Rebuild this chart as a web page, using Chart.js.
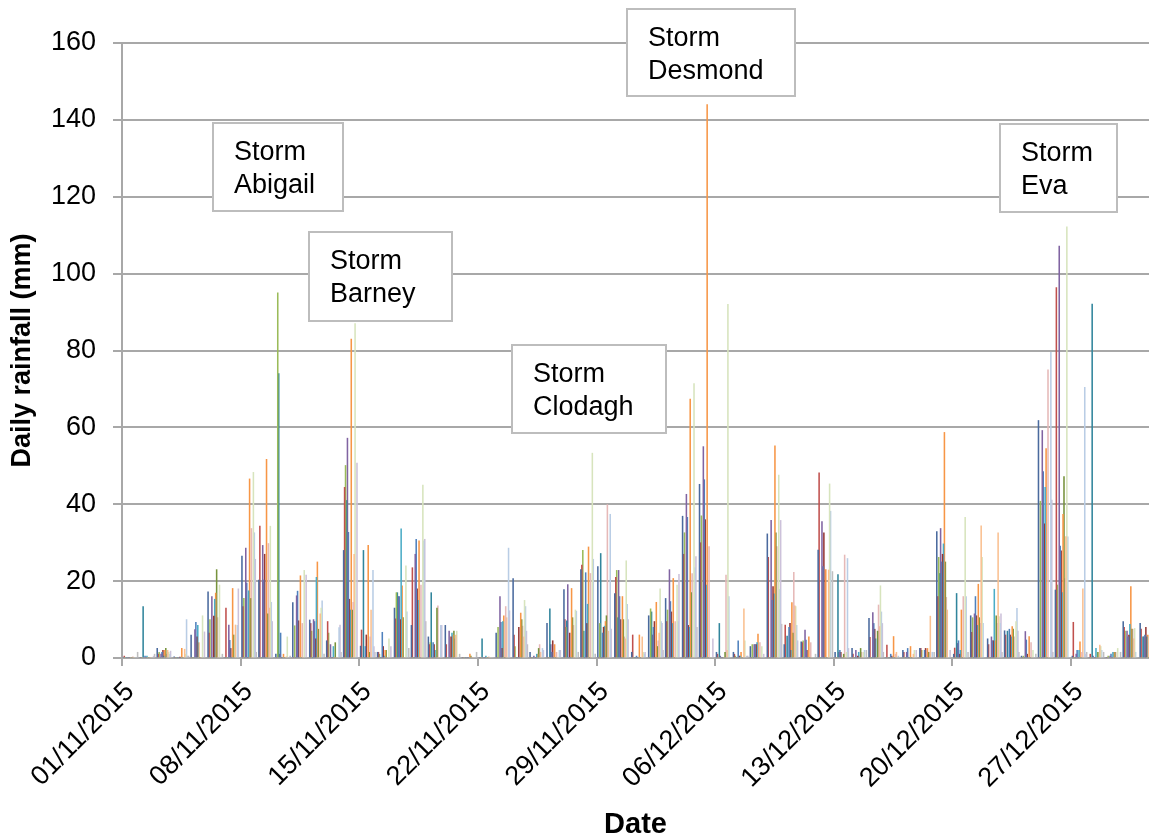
<!DOCTYPE html>
<html>
<head>
<meta charset="utf-8">
<title>Daily rainfall, November - December 2015</title>
<script src="https://cdn.jsdelivr.net/npm/chart.js@4/dist/chart.umd.min.js"></script>
<style>
  html, body { margin: 0; padding: 0; background: #fff; }
  canvas { display: block; }
</style>
</head>
<body>
<canvas id="rainChart" width="1149" height="838"></canvas>
<script>
// one value per day, 01/11/2015 .. 31/12/2015 (61 days)
const station1  = [0,0,2.5,0.3,6,17.2,0,26.5,20.3,1, 14.4,9.9,4.5,28,3.1,1.5,13,8.5,5.5,8.5, 0,0,6.5,20.7,1.5,9,17.8,23,23.8,16.8, 1.5,11,15.5,36.9,45.2,1.5,1.5,3,32.3,3.5, 4.2,28.1,1.5,2.5,10.3,0,2,2.5,32.9,1, 11,5,7.1,0.5,61.8,17.7,0.5,0,0,9.5, 9];
const station2  = [0.5,0,1,0,0,6.5,13,13.4,34.3,0, 0,9,9.5,44.4,7.3,1.5,10.2,23.5,3.5,3.5, 0,0,0,6,0,0,10,24.2,0,21, 6,0,9.5,27,30,1,1,0,26.2,8.6, 4,48.2,0,1,5.4,3.4,1.5,2.5,16,2.6, 6.7,3.5,6,0,0,96.4,9.3,1,0,8, 7.5];
const station3  = [0,0,1.5,0,0,10,0,15.5,0,95, 8.4,7,6.5,50.1,0,1,17,0,4,0, 0,0,8,3,0,0,8,28,9,22.8, 0,12.8,12.5,32.6,37,0,0.5,3.5,0,0, 4.5,0,0,0,0,0,0,2,26.2,0, 10.5,0,0,0.5,40.8,19,0,0,0.5,7, 0];
const station4  = [0,13.4,0,0,0,0,0,0,0,74, 0,0,0,41,28,0,17,0,17,0, 0,5,0,0,0,12.8,9.7,7,27.2,10.5, 0,12,0,0,0,9,0,0,0,5.7, 0,0,21.7,0,0,0,0,0,22,16.8, 0,0,7,0,0,0,0,92.1,0,0, 5.5];
const station5  = [0,0,1,0,7.4,16,8.6,28.6,29.3,1, 16.2,10,3.5,57.2,0,0,16,27,0,7, 0,0,16,0,0.5,3.5,19.1,0,0,22.8, 0,6,23,42.6,55,0.5,0,3.5,35.8,0, 7.3,35.5,1.5,2,11.8,0,1.5,0,33.7,3.8, 11.5,5.5,0,6.9,59.2,107.2,1,0.5,0.5,7, 5.5];
const station6  = [0,0.5,1.5,0,9.3,0,4.6,19.5,20.3,6.5, 17.4,9.5,0,32.7,3,6.7,16,30.9,4,0, 0,0,9.3,0,0,1.5,0,22.2,6.5,16, 0.5,8,14.7,36.6,46.4,0,4.5,3.5,15,8, 4.7,23.8,2,0,9,1,2.5,2,25,4.5, 16,4.5,7.5,4.7,48.5,29.1,2,0,1,5.5, 6];
const station7  = [0,0,2,0.2,5.5,10.9,2.5,0,27,0, 9.7,5,0,15.3,6,3,10,18,3.5,5.5, 0,0,2.5,8,0,4.5,6.5,9,8,10, 0,9.5,12,8.5,36,0,0.5,3.5,18.6,9, 2,32.6,1.5,0.5,7.5,0.5,0,2.5,27,1, 11,4.5,6,1,34.9,27.9,0,0,0,6, 8];
const station8  = [0,0.5,0.5,0,8.5,15.3,0,17.5,0,0, 0,21,3,12.5,0,0.5,33.6,15,2,6.5, 0,0.5,9.5,0,1,0,0,14,8.3,0, 0,0,9,8,19,0,0.5,4,16.7,2, 0,0,0,1.5,5,0,0,0,29.7,2, 8.5,17.9,5.5,0,44.4,17,2,2.5,1.5,8.8, 5.5];
const station9  = [0,0,2,2.5,4,16.9,18.1,46.6,51.7,1, 21.4,25,0,83,29.3,2,18.8,30.5,0,6, 1,0,11,11.7,1,3.5,18.1,28.9,9.5,16, 6,14.5,20.7,67.4,144,0,1.5,6.2,55.2,14.4, 5.5,23,0,0,0,5.6,3,2.5,58.7,12.5, 19.2,4.5,8.2,5.6,54.5,37.4,4.2,0,1.5,18.6, 6];
const station10 = [0,0,2.5,0,0,23,6,15.5,11.5,0, 0,7.5,4,12.5,1.5,2,10.5,0,13,7, 0.5,0,0,10,2.5,0,10.5,0,11,10, 0,3,0,17,0,1.5,0,0,32.6,6.5, 0,0,1,2.5,7,0,0,1.5,25,0, 10.5,11,7.5,0,0,47.2,0,1.5,1.5,7.5, 0];
const station11 = [0.3,0,1,0,0,10.5,0,33.7,29.8,0, 9,0,0,14.5,5.5,0,0,19,13.6,5, 0,0.3,13.4,8.3,3.5,1.5,8.5,22,39.9,5.5, 0,4.5,9.5,22,29,21.6,0,4,29,22.3, 4,0,26.8,1.5,13.8,1,0,1.5,15.8,16, 9,9,5.5,4,75,20.7,1.5,0,1.5,7.5, 4];
const station12 = [0,0,2,2.3,0,0,8.6,0,13,0.3, 0,11.5,0,27,12.5,0,0,0,0,6, 0,0,10.5,5.5,1.5,0,0,0,7,5, 5.5,6.5,0,0,0,2,12.8,0,0,13.6, 0,22.9,0,0,8.2,1.5,1,10.9,12.5,0, 34.4,32.6,0,0,0,31.6,18,3.4,0,5, 0];
const station13 = [0,0,1.5,1,11,19,0,48.3,34.3,5.5, 22.8,13,0,87,0,5,24,45,0,7, 0,0,0,15,0,0,12.5,53.3,0,25.3, 1.5,18,19,71.4,0,92,4.5,3,47.6,13.4, 0,45.3,1.5,1.5,18.8,0,2,0,0,36.6, 26.2,10.8,9.5,2,0,112.2,0,3,2.5,7.7, 3];
const station14 = [0,0,1,10,0,0,8.5,32.6,14.5,0, 0,14.9,7.9,0,22.8,0,12,30.5,8.5,0, 0,0,28.6,13.4,2.5,2,12.2,25.7,37.4,14, 1,9.5,9.5,23.5,0,16,0,0,17.9,8.5, 0,38.2,25.9,2,12,0.5,0,1.5,0,16, 9,9,12.9,0,79.5,31.5,70.4,2,0,1.5, 0];
const station15 = [0,0.5,1.8,0.5,6.8,0,18,25.7,9.5,0, 21.6,0,8.6,50.7,3,3,0,30.9,8.5,0, 0,0,12.3,7,2,2,0,0,7.5,10, 1.5,9,21.8,26.4,5,0,0.5,1,35.8,4.5, 0,0,2.5,0,9,0,2,0,2,0, 0,11.5,7,0,41.1,0,1,0,0,0, 0];
const station16 = [1.5,1,0,0.5,0,1,0,1.5,0,0.5, 0,1,1.5,0,1.5,0,2.5,9.5,0,1, 1.5,0,0,3.5,0,0,1.5,1,0,0, 0,2,0,8,0,0,0.5,0,8.8,0, 1,22.5,0,2,1.5,0,0,1.5,0,1.5, 0,1.5,1.5,1,1.5,0,1.5,1.5,1.5,0, 0];

const tickDays = [0, 7, 14, 21, 28, 35, 42, 49, 56];
const tickLabels = ['01/11/2015', '08/11/2015', '15/11/2015', '22/11/2015', '29/11/2015',
                    '06/12/2015', '13/12/2015', '20/12/2015', '27/12/2015'];

const storms = [['Storm', 'Abigail'], ['Storm', 'Barney'], ['Storm', 'Clodagh'], ['Storm', 'Desmond'], ['Storm', 'Eva']];

const series = [station1, station2, station3, station4, station5, station6, station7, station8,
                station9, station10, station11, station12, station13, station14, station15, station16];
const colours = ['#4A6A9E', '#C0504D', '#9BBB59', '#31859C', '#8064A2', '#4F81BD', '#953735', '#4BACC6',
                 '#F79646', '#77933C', '#E6B9B8', '#FAC090', '#D7E4BD', '#B9CDE5', '#CCC1DA', '#BFBFBF'];

// label boxes, in axis units (day, mm)
const stormBoxes = [
  { x0: 5.37,  x1: 13.04, y0: 139.2, y1: 116.3 },
  { x0: 11.03, x1: 19.47, y0: 110.8, y1: 87.6 },
  { x0: 23.01, x1: 32.1,  y0: 81.4,  y1: 58.5 },
  { x0: 29.79, x1: 39.7,  y0: 168.8, y1: 146.2 },
  { x0: 51.8,  x1: 58.7,  y0: 138.9, y1: 116.0 },
];

const FONT = '"Liberation Sans", Arial, sans-serif';
const GRID = '#A8A8A8';
Chart.defaults.font.family = FONT;
Chart.defaults.color = '#000';

const stormLabels = {
  id: 'stormLabels',
  afterDraw(chart) {
    const { ctx } = chart;
    const x = chart.scales.x;
    const y = chart.scales.y;
    ctx.save();
    stormBoxes.forEach((b, i) => {
      const left = Math.round(x.getPixelForValue(b.x0));
      const right = Math.round(x.getPixelForValue(b.x1));
      const top = Math.round(y.getPixelForValue(b.y0));
      const bottom = Math.round(y.getPixelForValue(b.y1));
      ctx.fillStyle = '#fff';
      ctx.fillRect(left, top, right - left, bottom - top);
      ctx.strokeStyle = '#BDBDBD';
      ctx.lineWidth = 2;
      ctx.strokeRect(left, top, right - left, bottom - top);
      ctx.fillStyle = '#000';
      ctx.font = '27px ' + FONT;
      ctx.textBaseline = 'alphabetic';
      storms[i].forEach((line, k) => {
        ctx.fillText(line, left + 21, top + 37 + k * 33);
      });
    });
    ctx.restore();
  }
};

new Chart(document.getElementById('rainChart'), {
  type: 'bar',
  data: {
    datasets: series.map((vals, k) => ({
      label: 'Station ' + (k + 1),
      data: vals.map((v, i) => ({ x: i + 0.5, y: v })),
      backgroundColor: colours[k],
      borderWidth: 0,
      inflateAmount: 0.3,
      barPercentage: 1,
      categoryPercentage: 0.9
    }))
  },
  options: {
    responsive: false,
    animation: false,
    layout: { padding: { top: 43, right: 0, bottom: 0, left: 0 } },
    plugins: {
      legend: { display: false },
      tooltip: { enabled: false }
    },
    scales: {
      x: {
        type: 'linear',
        min: 0,
        max: 60.6,
        offset: false,
        afterBuildTicks: (scale) => {
          scale.ticks = tickDays.map(v => ({ value: v }));
        },
        afterFit: (scale) => { scale.height = 180; },
        ticks: {
          autoSkip: false,
          minRotation: 45,
          maxRotation: 45,
          padding: 10,
          labelOffset: 8,
          font: { size: 27 },
          color: '#000',
          callback: (value, index) => tickLabels[index]
        },
        grid: {
          offset: false,
          drawOnChartArea: false,
          drawTicks: true,
          tickLength: 8,
          color: GRID,
          lineWidth: 2
        },
        border: { color: GRID, width: 2 },
        title: {
          display: true,
          text: 'Date',
          font: { size: 29, weight: 'bold', lineHeight: 0.9 },
          padding: 0,
          color: '#000'
        }
      },
      y: {
        min: 0,
        max: 160,
        afterFit: (scale) => { scale.width = 122; },
        ticks: {
          stepSize: 20,
          padding: 17,
          font: { size: 27 },
          color: '#000'
        },
        grid: { color: GRID, lineWidth: 2, tickLength: 9 },
        border: { color: GRID, width: 2 },
        title: {
          display: true,
          text: 'Daily rainfall (mm)',
          font: { size: 27, weight: 'bold' },
          padding: { top: 6, bottom: 0 },
          color: '#000'
        }
      }
    }
  },
  plugins: [stormLabels]
});
</script>
</body>
</html>
